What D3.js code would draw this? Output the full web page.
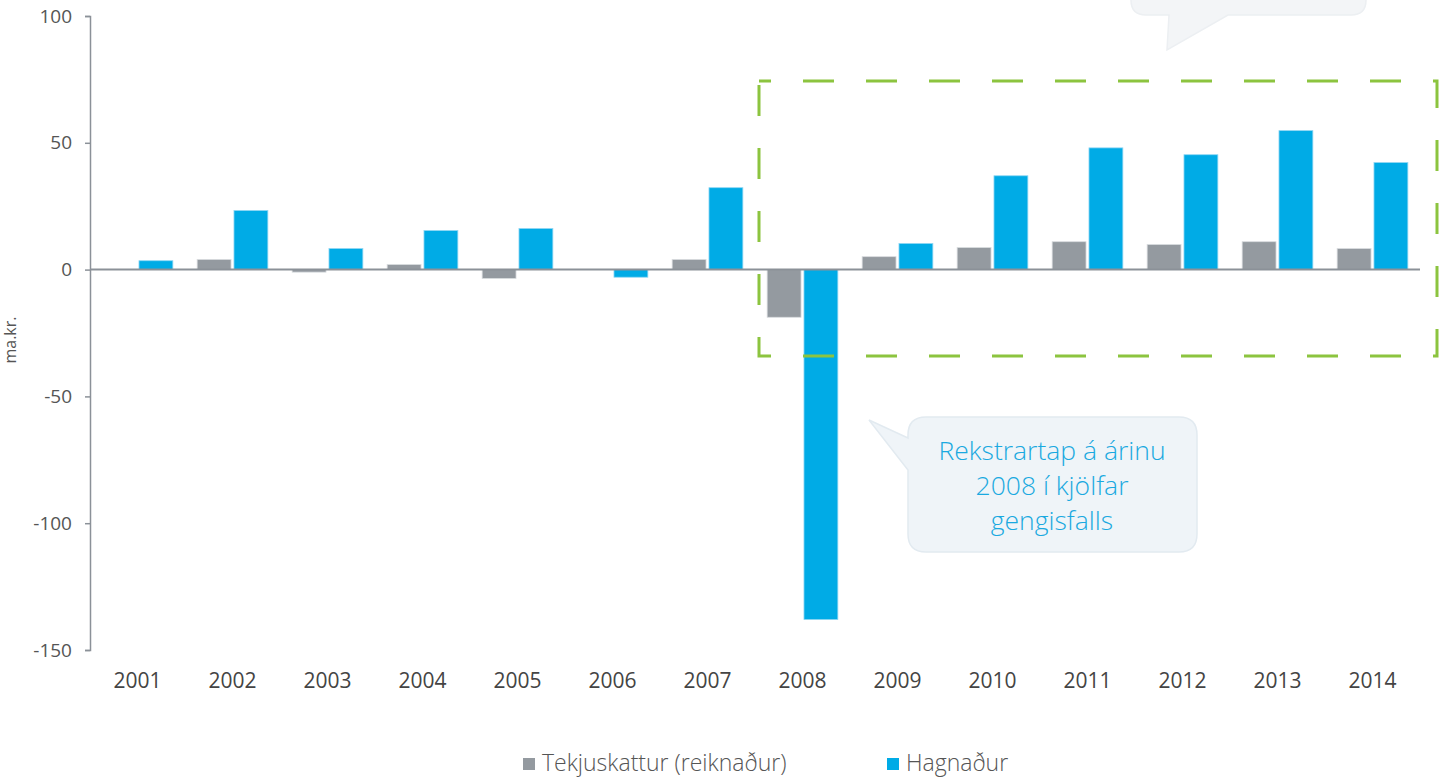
<!DOCTYPE html>
<html>
<head>
<meta charset="utf-8">
<script src="https://cdn.jsdelivr.net/npm/d3@7"></script>
<style>
  body { margin: 0; background: #fff; }
  text { font-family: "Open Sans", sans-serif; }
</style>
</head>
<body>
<div id="chart"></div>
<script>
// ----- data -----
const years = ["2001","2002","2003","2004","2005","2006","2007","2008","2009","2010","2011","2012","2013","2014"];
const tekjuskattur = [0, 4, -1, 2, -3.5, 0, 4, -18.8, 5.1, 8.7, 11, 9.9, 11, 8.3];
const hagnadur = [3.5, 23.3, 8.3, 15.4, 16.2, -3, 32.3, -138, 10.3, 37, 48, 45.3, 54.8, 42.2];
const yTicks = [100, 50, 0, -50, -100, -150];
const seriesNames = ["Tekjuskattur (reiknaður)", "Hagnaður"];
const calloutLines = ["Rekstrartap á árinu", "2008 í kjölfar", "gengisfalls"];

const width = 1447, height = 780;
const gray = "#949aa0", blue = "#00abe6", axisColor = "#8b9198";

const svg = d3.select("#chart").append("svg")
    .attr("width", width)
    .attr("height", height);

const x = d3.scaleBand().domain(years).range([90, 1420]);
const sub = d3.scaleBand().domain(["tax", "profit"]).range([0, x.bandwidth()])
    .paddingInner(0.08).paddingOuter(0.33);
const y = d3.scaleLinear().domain([-150, 100]).range([650, 16]);

const data = years.map((yr, i) => ({ year: yr, tax: tekjuskattur[i], profit: hagnadur[i] }));

// top-right callout (partly cut off)
svg.append("path")
    .attr("d", "M1146,-40 H1351 Q1366,-40 1366,-25 V0 Q1366,15 1351,15 H1228 L1167,50 L1169,15 H1146 Q1131,15 1131,0 V-25 Q1131,-40 1146,-40 Z")
    .attr("fill", "#f3f5f7")
    .attr("stroke", "#eceff2")
    .attr("stroke-width", 1.5);

// bars
const groups = svg.append("g").selectAll("g")
    .data(data)
    .enter().append("g")
    .attr("transform", d => `translate(${x(d.year)},0)`);

groups.append("rect")
    .attr("x", sub("tax"))
    .attr("width", sub.bandwidth())
    .attr("y", d => y(Math.max(0, d.tax)))
    .attr("height", d => Math.abs(y(d.tax) - y(0)))
    .attr("fill", gray)
    .attr("stroke", "#d9dcdf")
    .attr("stroke-width", 0.8);

groups.append("rect")
    .attr("x", sub("profit"))
    .attr("width", sub.bandwidth())
    .attr("y", d => y(Math.max(0, d.profit)))
    .attr("height", d => Math.abs(y(d.profit) - y(0)))
    .attr("fill", blue)
    .attr("stroke", "#8fd6f3")
    .attr("stroke-width", 0.8);

// y axis
const yAxis = svg.append("g")
    .attr("transform", "translate(90,0)")
    .call(d3.axisLeft(y).tickValues(yTicks).tickSize(5).tickPadding(13).tickFormat(d => String(d)));
yAxis.select(".domain").attr("stroke", axisColor).attr("stroke-width", 1.5);
yAxis.selectAll(".tick line").attr("stroke", axisColor).attr("stroke-width", 1.5);
yAxis.selectAll(".tick text")
    .attr("font-size", 19)
    .attr("font-family", "Open Sans")
    .attr("fill", "#555");

// zero line
svg.append("line")
    .attr("x1", 90).attr("x2", 1420)
    .attr("y1", y(0)).attr("y2", y(0))
    .attr("stroke", axisColor)
    .attr("stroke-width", 2);

// x axis labels
const xAxis = svg.append("g")
    .attr("transform", "translate(0,650)")
    .call(d3.axisBottom(x).tickSize(0).tickPadding(23));
xAxis.select(".domain").remove();
xAxis.selectAll(".tick text")
    .attr("font-size", 21)
    .attr("font-family", "Open Sans")
    .attr("fill", "#444");

// y label
svg.append("text")
    .attr("transform", "translate(16,340) rotate(-90)")
    .attr("text-anchor", "middle")
    .attr("font-size", 16)
    .attr("fill", "#555")
    .text("ma.kr.");

// dashed highlight box
svg.append("rect")
    .attr("x", 759).attr("y", 81)
    .attr("width", 678).attr("height", 275)
    .attr("fill", "none")
    .attr("stroke", "#8cc43f")
    .attr("stroke-width", 3)
    .attr("stroke-dasharray", "31,32")
    .attr("stroke-dashoffset", 19);

// 2008 callout
svg.append("path")
    .attr("d", "M926,417 H1179 Q1197,417 1197,435 V534 Q1197,552 1179,552 H926 Q908,552 908,534 V470 L869,420 L908,438 V435 Q908,417 926,417 Z")
    .attr("fill", "#eff4f8")
    .attr("stroke", "#e2eaf0")
    .attr("stroke-width", 1.5);

svg.append("text")
    .attr("text-anchor", "middle")
    .attr("font-size", 26.5)
    .attr("font-weight", 300)
    .attr("fill", "#1aa9e0")
    .selectAll("tspan")
    .data(calloutLines)
    .enter().append("tspan")
    .attr("x", 1052)
    .attr("y", (d, i) => 460 + i * 35)
    .text(d => d);

// legend
const legend = svg.append("g").selectAll("g")
    .data(seriesNames)
    .enter().append("g")
    .attr("transform", (d, i) => `translate(${i === 0 ? 523 : 887},758)`);

legend.append("rect")
    .attr("width", 12).attr("height", 12)
    .attr("fill", (d, i) => i === 0 ? gray : blue);

legend.append("text")
    .attr("x", 19)
    .attr("y", 5)
    .attr("dy", "0.35em")
    .attr("font-size", 23)
    .attr("font-weight", 300)
    .attr("fill", "#555")
    .text(d => d);
</script>
</body>
</html>
